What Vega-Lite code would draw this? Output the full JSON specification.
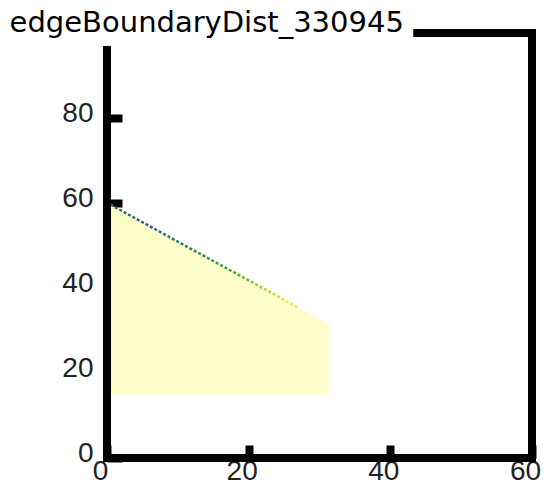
{
  "$schema": "https://vega.github.io/schema/vega-lite/v6.json",
  "width": 425,
  "height": 425,
  "autosize": {"type": "none"},
  "padding": {"left": 107, "top": 33, "right": 19, "bottom": 27},
  "background": "white",
  "config": {"view": {"stroke": null}},
  "title": {
    "text": "edgeBoundaryDist_330945",
    "anchor": "start",
    "align": "right",
    "dx": 342,
    "dy": 34,
    "offset": 0,
    "baseline": "alphabetic",
    "font": "DejaVu Sans",
    "fontSize": 29,
    "fontWeight": "normal",
    "color": "black"
  },
  "datasets": {
    "region": [
      {"d": 0, "top": 60, "bottom": 15},
      {"d": 5, "top": 55.4, "bottom": 15},
      {"d": 10, "top": 50.9, "bottom": 15},
      {"d": 15, "top": 46.3, "bottom": 15},
      {"d": 20, "top": 41.8, "bottom": 15},
      {"d": 25, "top": 37.2, "bottom": 15},
      {"d": 31.3, "top": 31.5, "bottom": 15}
    ],
    "edge": [
      {"d": 0.5, "v": 59.6},
      {"d": 10, "v": 50.9},
      {"d": 20, "v": 41.8},
      {"d": 27, "v": 35.4}
    ],
    "one": [{}]
  },
  "layer": [
    {
      "data": {"name": "region"},
      "mark": {"type": "area", "color": "#FEFECB", "opacity": 1},
      "encoding": {
        "x": {
          "field": "d", "type": "quantitative",
          "scale": {"domain": [0, 60], "nice": false, "zero": false},
          "axis": {
            "title": null, "values": [0, 20, 40, 60], "domain": false, "grid": false,
            "tickSize": -13, "tickWidth": 8, "tickColor": "black",
            "labelFont": "Liberation Sans", "labelFontSize": 28, "labelColor": "#222",
            "labelPadding": 12, "labelOffset": -7, "labelFlush": false, "labelOverlap": false
          }
        },
        "y": {
          "field": "top", "type": "quantitative",
          "scale": {"domain": [0, 100], "nice": false, "zero": false},
          "axis": {
            "title": null, "values": [0, 20, 40, 60, 80], "domain": false, "grid": false,
            "tickSize": -15, "tickWidth": 8, "tickColor": "black",
            "labelFont": "Liberation Sans", "labelFontSize": 28, "labelColor": "#222",
            "labelPadding": 29, "labelOffset": -5, "labelFlush": false, "labelOverlap": false
          }
        },
        "y2": {"field": "bottom"}
      }
    },
    {
      "data": {"name": "edge"},
      "mark": {
        "type": "line",
        "strokeWidth": 2.5,
        "strokeDash": [3, 2],
        "color": {
          "gradient": "linear",
          "x1": 0, "y1": 0, "x2": 1, "y2": 0,
          "stops": [
            {"offset": 0, "color": "#2a7a55"},
            {"offset": 0.2, "color": "#34589f"},
            {"offset": 0.45, "color": "#2f8552"},
            {"offset": 0.65, "color": "#45a83a"},
            {"offset": 0.85, "color": "#bcd930"},
            {"offset": 1, "color": "#f0ec60"}
          ]
        }
      },
      "encoding": {
        "x": {"field": "d", "type": "quantitative"},
        "y": {"field": "v", "type": "quantitative"}
      }
    },
    {
      "data": {"name": "one"},
      "mark": {"type": "rule", "color": "black", "strokeWidth": 8, "strokeCap": "square"},
      "encoding": {"x": {"datum": 0}, "y": {"datum": 0}, "y2": {"datum": 96}}
    },
    {
      "data": {"name": "one"},
      "mark": {"type": "rule", "color": "black", "strokeWidth": 8, "strokeCap": "square"},
      "encoding": {"y": {"datum": 0}, "x": {"datum": 0}, "x2": {"datum": 60}}
    },
    {
      "data": {"name": "one"},
      "mark": {"type": "rule", "color": "black", "strokeWidth": 8, "strokeCap": "square"},
      "encoding": {"x": {"datum": 60}, "y": {"datum": 0}, "y2": {"datum": 100}}
    },
    {
      "data": {"name": "one"},
      "mark": {"type": "rule", "color": "black", "strokeWidth": 8, "strokeCap": "square"},
      "encoding": {"y": {"datum": 100}, "x": {"datum": 43.8}, "x2": {"datum": 60}}
    }
  ]
}
